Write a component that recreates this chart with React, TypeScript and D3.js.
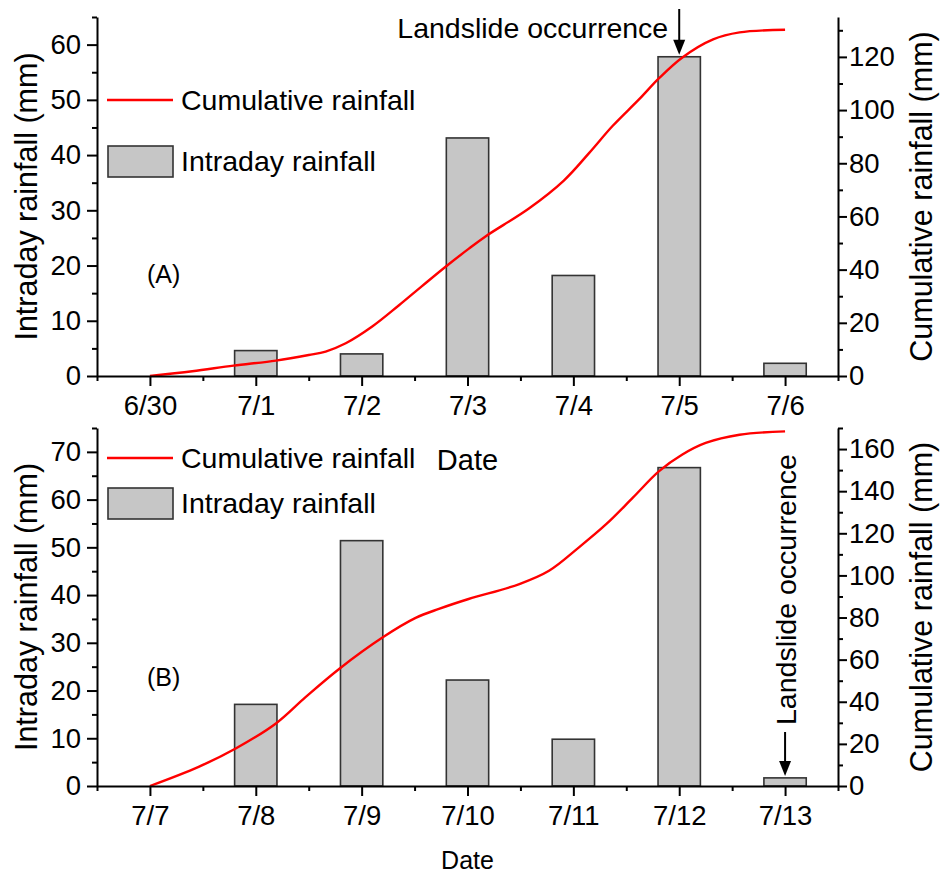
import React, { useRef, useEffect } from 'react';
import * as d3 from 'd3';

// panel A: 6/30 - 7/6
const datesA = ['6/30', '7/1', '7/2', '7/3', '7/4', '7/5', '7/6'];
const intradayA = [0, 4.6, 4.0, 43.1, 18.2, 57.8, 2.3];
const cumDayA = [0, 0.4, 0.79, 1.19, 1.5, 1.66, 1.85, 2.1, 2.35, 2.57, 2.79, 3.01, 3.17, 3.58, 3.91, 4.15, 4.37, 4.62, 4.81, 5.03, 5.32, 5.57, 6.0];
const cumValA = [0, 1.8, 3.9, 5.8, 7.9, 9.2, 12.3, 18.6, 26.5, 33.8, 41, 47.8, 52.5, 63, 73.5, 83.9, 94, 104, 112, 119.8, 126.6, 129.2, 130.2];

// panel B: 7/7 - 7/13
const datesB = ['7/7', '7/8', '7/9', '7/10', '7/11', '7/12', '7/13'];
const intradayB = [0, 17.1, 51.4, 22.2, 9.8, 66.7, 1.7];
const cumDayB = [0, 0.46, 0.81, 1.19, 1.47, 1.79, 2.2, 2.51, 2.73, 3.01, 3.49, 3.77, 4.05, 4.31, 4.56, 4.81, 5.03, 5.25, 5.57, 6.0];
const cumValB = [0, 9.1, 17.8, 29.7, 42.2, 55.7, 70.6, 79.8, 84.1, 88.8, 95.9, 102.2, 113.2, 124.3, 136.8, 149.5, 157.4, 162.9, 166.8, 168.4];

const FONT = '"Liberation Sans", Arial, sans-serif';
const W = 941;
const H = 874;

const App = () => {
  const svgRef = useRef<SVGSVGElement>(null);

  useEffect(() => {
    const svg = d3.select(svgRef.current);
    svg.selectAll('*').remove();

    const left = 97;
    const right = 838;

    const panels = [
      {
        top: 17, bottom: 376, dates: datesA, bars: intradayA,
        cum: cumDayA.map((d, i) => [d, cumValA[i]]),
        lMax: 65, rMax: 135, rStep: 20, label: '(A)', labelY: 283,
        leg1: 100, legRect: 146, landslide: 5,
      },
      {
        top: 428, bottom: 786, dates: datesB, bars: intradayB,
        cum: cumDayB.map((d, i) => [d, cumValB[i]]),
        lMax: 75, rMax: 170, rStep: 20, label: '(B)', labelY: 686,
        leg1: 458, legRect: 488, landslide: 6,
      },
    ];

    const x = d3.scaleLinear().domain([-0.5, 6.5]).range([left, right]);
    const barW = (x(1) - x(0)) * 0.4;

    panels.forEach((p, pi) => {
      const yL = d3.scaleLinear().domain([0, p.lMax]).range([p.bottom, p.top]);
      const yR = d3.scaleLinear().domain([0, p.rMax]).range([p.bottom, p.top]);
      const g = svg.append('g');

      // bars
      g.selectAll('rect.bar')
        .data(p.bars.map((v, i) => ({ v, i })).filter(d => d.v > 0))
        .enter()
        .append('rect')
        .attr('x', d => x(d.i) - barW / 2)
        .attr('y', d => yL(d.v))
        .attr('width', barW)
        .attr('height', d => yL(0) - yL(d.v))
        .attr('fill', '#c6c6c6')
        .attr('stroke', '#333')
        .attr('stroke-width', 1.6);

      // cumulative line
      const line = d3.line<number[]>()
        .x(d => x(d[0]))
        .y(d => yR(d[1]))
        .curve(d3.curveCatmullRom.alpha(0.5));
      g.append('path')
        .attr('d', line(p.cum as number[][]))
        .attr('fill', 'none')
        .attr('stroke', '#ff0000')
        .attr('stroke-width', 2.4);

      const styleAxis = (sel: any) => {
        sel.select('.domain').attr('stroke', '#000').attr('stroke-width', 2);
        sel.selectAll('line').attr('stroke', '#000').attr('stroke-width', 2);
        sel.selectAll('text').attr('font-family', FONT).attr('font-size', 27.5).attr('fill', '#000');
      };

      // x axis
      const xAxis = g.append('g').attr('transform', `translate(0,${p.bottom})`)
        .call(d3.axisBottom(x).tickValues(d3.range(0, 7)).tickFormat((d: any) => p.dates[d]).tickSize(10).tickPadding(9).tickSizeOuter(0));
      styleAxis(xAxis);
      const xMinor = g.append('g').attr('transform', `translate(0,${p.bottom})`)
        .call(d3.axisBottom(x).tickValues(d3.range(-0.5, 7, 1)).tickFormat(() => '').tickSize(5).tickSizeOuter(0));
      styleAxis(xMinor);
      xMinor.select('.domain').remove();

      // left axis
      const lAxis = g.append('g').attr('transform', `translate(${left},0)`)
        .call(d3.axisLeft(yL).tickValues(d3.range(0, p.lMax + 1, 10)).tickSize(10).tickPadding(6).tickSizeOuter(0));
      styleAxis(lAxis);
      const lMinor = g.append('g').attr('transform', `translate(${left},0)`)
        .call(d3.axisLeft(yL).tickValues(d3.range(5, p.lMax + 1, 10)).tickFormat(() => '').tickSize(5).tickSizeOuter(0));
      styleAxis(lMinor);
      lMinor.select('.domain').remove();

      // right axis
      const rAxis = g.append('g').attr('transform', `translate(${right},0)`)
        .call(d3.axisRight(yR).tickValues(d3.range(0, p.rMax + 1, p.rStep)).tickSize(9).tickPadding(2).tickSizeOuter(0));
      styleAxis(rAxis);
      const rMinor = g.append('g').attr('transform', `translate(${right},0)`)
        .call(d3.axisRight(yR).tickValues(d3.range(10, p.rMax + 1, p.rStep)).tickFormat(() => '').tickSize(5).tickSizeOuter(0));
      styleAxis(rMinor);
      rMinor.select('.domain').remove();

      const mid = (p.top + p.bottom) / 2;

      // axis titles
      g.append('text')
        .attr('transform', `translate(37,${mid}) rotate(-90)`)
        .attr('text-anchor', 'middle')
        .attr('font-family', FONT).attr('font-size', 30.5)
        .text('Intraday rainfall (mm)');
      g.append('text')
        .attr('transform', `translate(932,${mid}) rotate(-90)`)
        .attr('text-anchor', 'middle')
        .attr('font-family', FONT).attr('font-size', 30.5)
        .text('Cumulative rainfall (mm)');

      // panel label
      g.append('text')
        .attr('x', 147).attr('y', p.labelY)
        .attr('font-family', FONT).attr('font-size', 25)
        .text(p.label);

      // legend
      g.append('line')
        .attr('x1', 107).attr('x2', 173).attr('y1', p.leg1).attr('y2', p.leg1)
        .attr('stroke', '#ff0000').attr('stroke-width', 2.4);
      g.append('text')
        .attr('x', 181).attr('y', p.leg1 + 10)
        .attr('font-family', FONT).attr('font-size', 28.5)
        .text('Cumulative rainfall');
      g.append('rect')
        .attr('x', 108).attr('y', p.legRect).attr('width', 65).attr('height', 31)
        .attr('fill', '#c6c6c6').attr('stroke', '#333').attr('stroke-width', 1.6);
      g.append('text')
        .attr('x', 181).attr('y', p.legRect + 25)
        .attr('font-family', FONT).attr('font-size', 28.5)
        .text('Intraday rainfall');

      // landslide marker
      const ax = x(p.landslide);
      const tipY = yL(p.bars[p.landslide]) - 2;
      if (pi === 0) {
        g.append('text')
          .attr('x', ax - 11).attr('y', 38)
          .attr('text-anchor', 'end')
          .attr('font-family', FONT).attr('font-size', 28.5)
          .text('Landslide occurrence');
        g.append('line').attr('x1', ax).attr('x2', ax).attr('y1', 9).attr('y2', tipY - 12)
          .attr('stroke', '#000').attr('stroke-width', 2);
      } else {
        g.append('text')
          .attr('transform', `translate(${ax + 11},725) rotate(-90)`)
          .attr('font-family', FONT).attr('font-size', 28.5)
          .text('Landslide occurrence');
        g.append('line').attr('x1', ax).attr('x2', ax).attr('y1', 732).attr('y2', tipY - 12)
          .attr('stroke', '#000').attr('stroke-width', 2);
      }
      g.append('path')
        .attr('d', `M${ax - 6},${tipY - 15} L${ax + 6},${tipY - 15} L${ax},${tipY} Z`)
        .attr('fill', '#000');
    });

    // x titles
    svg.append('text')
      .attr('x', (left + right) / 2).attr('y', 470)
      .attr('text-anchor', 'middle')
      .attr('font-family', FONT).attr('font-size', 29)
      .text('Date');
    svg.append('text')
      .attr('x', (left + right) / 2).attr('y', 869)
      .attr('text-anchor', 'middle')
      .attr('font-family', FONT).attr('font-size', 25)
      .text('Date');
  }, []);

  return (
    <svg
      ref={svgRef}
      width={W}
      height={H}
      style={{ position: 'absolute', left: 0, top: 0, background: '#fff' }}
    />
  );
};

export default App;
